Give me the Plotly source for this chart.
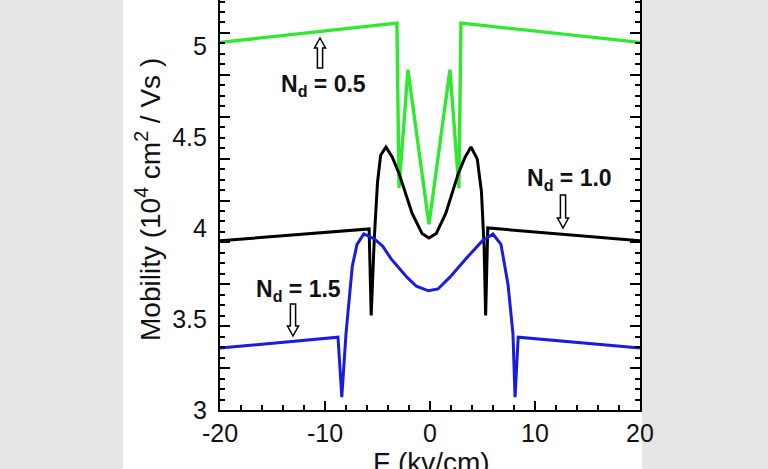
import plotly.graph_objects as go

# ---- data ----
green_x = [-20, -3.15, -2.95, -2.1, -0.1, 1.9, 2.75, 2.95, 20]
green_y = [5.02, 5.126, 4.22, 4.87, 4.02, 4.87, 4.22, 5.126, 5.02]

black_x = [-20, -5.8, -5.6, -5.3, -5.0, -4.7, -4.2, -3.6, -2.95, -1.7, -0.76, -0.1,
           0.6, 1.5, 2.7, 3.35, 3.9, 4.5, 4.9, 5.15, 5.3, 5.5, 20]
black_y = [3.93, 3.995, 3.52, 3.95, 4.25, 4.40, 4.445, 4.39, 4.30, 4.08, 3.97, 3.945,
           3.97, 4.08, 4.30, 4.39, 4.445, 4.38, 4.20, 3.90, 3.52, 4.0, 3.93]

blue_x = [-20, -8.76, -8.4, -8.0, -7.4, -6.95, -6.3, -5.3, -4.5, -3.7, -2.2, -1.3, -0.15,
          0.76, 1.9, 3.4, 5.0, 6.0, 6.76, 7.43, 7.9, 8.1, 8.4, 20]
blue_y = [3.34, 3.40, 3.07, 3.42, 3.79, 3.91, 3.967, 3.94, 3.90, 3.83, 3.73, 3.68, 3.655,
          3.665, 3.73, 3.83, 3.93, 3.967, 3.91, 3.69, 3.42, 3.07, 3.40, 3.34]

y_tickvals = [3, 3.5, 4, 4.5, 5]
y_ticktext = ["3", "3.5", "4", "4.5", "5"]
x_tickvals = [-20, -10, 0, 10, 20]
x_ticktext = ["-20", "-10", "0", "10", "20"]

labels = ["N<sub>d</sub> = 0.5", "N<sub>d</sub> = 1.0", "N<sub>d</sub> = 1.5"]

# ---- layout geometry (pixels) ----
W, H = 768, 469
L, R, T, B = 220, 128, 0, 59
PW, PH = W - L - R, H - T - B
XMIN, XMAX = -20, 20
YMIN = 3.0
YMAX = 3.0 + PH / 182.0

def px2paper(px, py):
    return (px - L) / PW, (H - B - py) / PH

fig = go.Figure()
fig.add_trace(go.Scatter(x=green_x, y=green_y, mode="lines",
                         line=dict(color="#30e830", width=3.4), showlegend=False))
fig.add_trace(go.Scatter(x=black_x, y=black_y, mode="lines",
                         line=dict(color="#000000", width=3), showlegend=False))
fig.add_trace(go.Scatter(x=blue_x, y=blue_y, mode="lines",
                         line=dict(color="#1a1ae0", width=3), showlegend=False))
fig.add_trace(go.Scatter(x=[None], y=[None], yaxis="y2", showlegend=False, hoverinfo="skip"))

font_tick = dict(family="Liberation Sans, Arial, sans-serif", size=25, color="#111111")

# white panel behind the chart
x0p, _ = px2paper(123, 0)
x1p, _ = px2paper(642, 0)
shapes = [dict(type="rect", xref="paper", yref="paper", x0=x0p, x1=x1p,
               y0=-B / PH - 0.01, y1=1.01, fillcolor="white", line=dict(width=0),
               layer="below")]

def hollow_arrow(cx, ytip, ybase):
    # outlined arrow drawn in pixel units, converted to paper coords
    up = ytip < ybase
    s = -1 if up else 1
    hw, sw, hh = 5.5, 2.6, 10
    pts = [(cx, ytip), (cx + hw, ytip - s * hh), (cx + sw, ytip - s * hh),
           (cx + sw, ybase), (cx - sw, ybase), (cx - sw, ytip - s * hh),
           (cx - hw, ytip - s * hh)]
    d = ""
    for i, (a, b) in enumerate(pts):
        xp, yp = px2paper(a, b)
        d += ("M" if i == 0 else "L") + f"{xp:.5f},{yp:.5f} "
    d += "Z"
    return dict(type="path", xref="paper", yref="paper", path=d,
                fillcolor="white", line=dict(color="black", width=1.5))

shapes.append(hollow_arrow(320, 38, 68))
shapes.append(hollow_arrow(563, 228, 195))
shapes.append(hollow_arrow(293, 336, 304))

ann = []
lab_pos = [(323, 86), (569, 179), (298, 290)]
for t, (px, py) in zip(labels, lab_pos):
    xp, yp = px2paper(px, py)
    ann.append(dict(text=f"<b>{t}</b>", x=xp, y=yp, xref="paper", yref="paper",
                    showarrow=False, xanchor="center", yanchor="middle",
                    font=dict(family="Liberation Sans, Arial, sans-serif", size=23, color="#111111")))

xp, yp = px2paper(148, 200)
ann.append(dict(text="Mobility (10<sup>4</sup> cm<sup>2</sup> / Vs )", x=xp, y=yp,
                xref="paper", yref="paper", showarrow=False, textangle=-90,
                xanchor="center", yanchor="middle",
                font=dict(family="Liberation Sans, Arial, sans-serif", size=28, color="#111111")))
xp, yp = px2paper(431, 462)
ann.append(dict(text="F (kv/cm)", x=xp, y=yp, xref="paper", yref="paper",
                showarrow=False, xanchor="center", yanchor="middle",
                font=dict(family="Liberation Sans, Arial, sans-serif", size=28, color="#111111")))

fig.update_layout(
    width=W, height=H,
    margin=dict(l=L, r=R, t=T, b=B, pad=0),
    paper_bgcolor="#e6e6e6", plot_bgcolor="white",
    shapes=shapes, annotations=ann,
    xaxis=dict(range=[XMIN, XMAX], tickvals=x_tickvals, ticktext=x_ticktext,
               ticks="inside", ticklen=9, tickwidth=2, tickcolor="black",
               showline=True, linecolor="black", linewidth=2.2, mirror=False,
               showgrid=False, zeroline=False, tickfont=font_tick,
               minor=dict(dtick=2, ticks="inside", ticklen=5, tickwidth=1.8, tickcolor="black")),
    yaxis=dict(range=[YMIN, YMAX], tickvals=y_tickvals, ticktext=y_ticktext,
               ticks="", showline=True, linecolor="black", linewidth=2.2, mirror=True,
               showgrid=False, zeroline=False, tickfont=font_tick, ticklabelstandoff=6),
    yaxis2=dict(range=[YMIN, YMAX], overlaying="y", side="left",
                tick0=3.0, dtick=0.2302, ticks="inside", ticklen=10, tickwidth=2,
                tickcolor="black", showticklabels=False, showline=True,
                linecolor="black", linewidth=2.2, mirror="ticks",
                showgrid=False, zeroline=False,
                minor=dict(tick0=3.0, dtick=0.05755, ticks="inside", ticklen=5,
                           tickwidth=1.8, tickcolor="black")),
)

fig.write_html("out.html", config={"displayModeBar": False},
               post_script="document.body.style.margin='0px';document.body.style.padding='0px';document.body.style.overflow='hidden';")
